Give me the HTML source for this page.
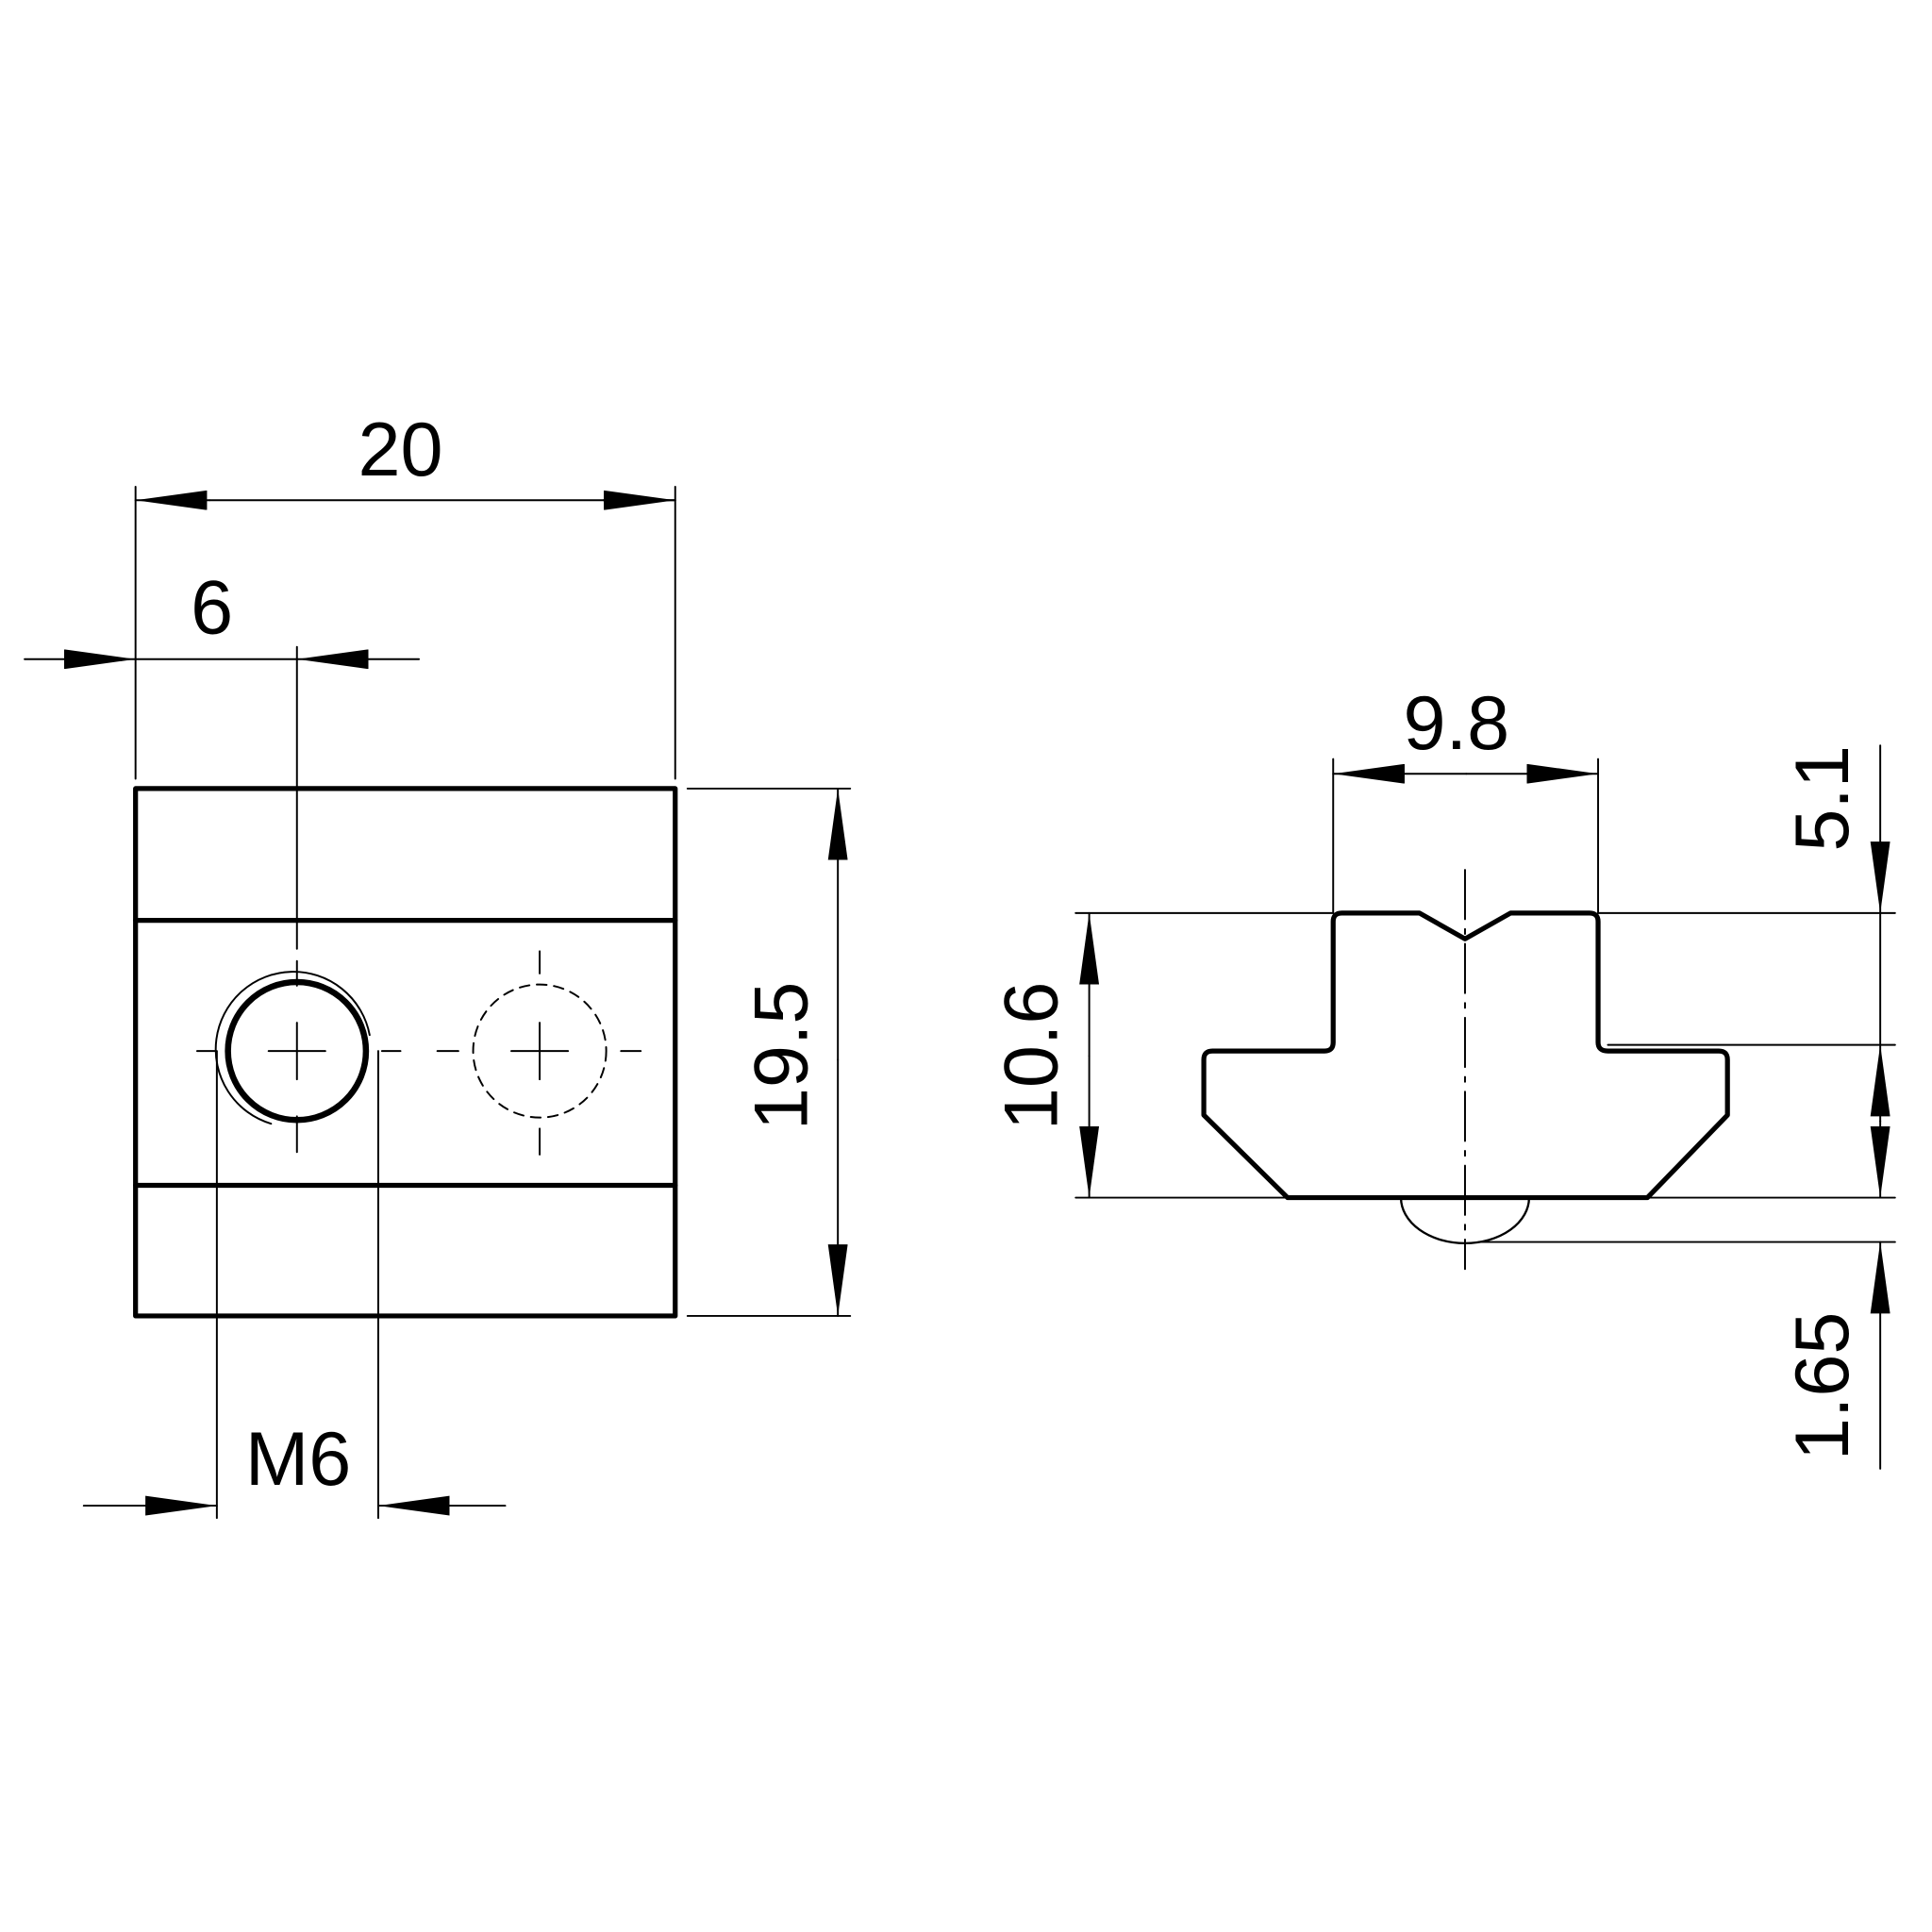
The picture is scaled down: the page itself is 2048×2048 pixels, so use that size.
<!DOCTYPE html>
<html><head><meta charset="utf-8"><style>html,body{margin:0;padding:0;background:#fff}svg{display:block}</style></head>
<body>
<svg width="2048" height="2048" viewBox="0 0 1568 1568" xmlns="http://www.w3.org/2000/svg">
<defs>
<marker id="a" viewBox="0 0 58 16" refX="58" refY="8" markerWidth="58" markerHeight="16" markerUnits="userSpaceOnUse" orient="auto"><path d="M0,0 L58,8 L0,16 Z" fill="#000"/></marker>
</defs>
<g fill="none" stroke="#000" stroke-linecap="round" stroke-linejoin="round">
<!-- left view body -->
<rect x="110" y="640" width="438" height="428" stroke-width="4"/>
<line x1="110" y1="747" x2="548" y2="747" stroke-width="4"/>
<line x1="110" y1="962" x2="548" y2="962" stroke-width="4"/>
<circle cx="241" cy="853" r="56" stroke-width="5"/>
<path d="M 300 840 A 63 63 0 1 0 220 912" stroke-width="1.5"/>
<circle cx="438" cy="853" r="54" stroke-width="1.5" stroke-dasharray="8 6"/>
<g stroke-width="1.5">
<line x1="241" y1="525" x2="241" y2="770"/>
<line x1="241" y1="780" x2="241" y2="800"/>
<line x1="241" y1="830" x2="241" y2="876"/>
<line x1="241" y1="906" x2="241" y2="935"/>
<line x1="160" y1="853" x2="175" y2="853"/>
<line x1="218" y1="853" x2="264" y2="853"/>
<line x1="310" y1="853" x2="325" y2="853"/>
<line x1="438" y1="772" x2="438" y2="790"/>
<line x1="438" y1="830" x2="438" y2="876"/>
<line x1="438" y1="916" x2="438" y2="937"/>
<line x1="355" y1="853" x2="372" y2="853"/>
<line x1="415" y1="853" x2="461" y2="853"/>
<line x1="504" y1="853" x2="520" y2="853"/>
<!-- dim 20 -->
<line x1="110" y1="395" x2="110" y2="632"/>
<line x1="548" y1="395" x2="548" y2="632"/>
<line x1="170" y1="406" x2="110" y2="406" marker-end="url(#a)"/>
<line x1="170" y1="406" x2="490" y2="406"/>
<line x1="490" y1="406" x2="548" y2="406" marker-end="url(#a)"/>
<line x1="490" y1="406" x2="548" y2="406"/>
<!-- dim 6 -->
<line x1="20" y1="535" x2="110" y2="535" marker-end="url(#a)"/>
<line x1="340" y1="535" x2="241" y2="535" marker-end="url(#a)"/>
<line x1="110" y1="535" x2="241" y2="535"/>
<!-- M6 -->
<line x1="176" y1="853" x2="176" y2="1232"/>
<line x1="307" y1="853" x2="307" y2="1232"/>
<line x1="68" y1="1222" x2="176" y2="1222" marker-end="url(#a)"/>
<line x1="410" y1="1222" x2="307" y2="1222" marker-end="url(#a)"/>
<!-- 19.5 -->
<line x1="558" y1="640" x2="690" y2="640"/>
<line x1="558" y1="1068" x2="690" y2="1068"/>
<line x1="680" y1="860" x2="680" y2="640" marker-end="url(#a)"/>
<line x1="680" y1="860" x2="680" y2="1068" marker-end="url(#a)"/>
</g>
<!-- right view T -->
<path d="M1082,748 Q1082,741 1089,741 L1152,741 L1189,762 L1226,741 L1290,741 Q1297,741 1297,748 L1297,846 Q1297,853 1305,853 L1395,853 Q1402,853 1402,860 L1402,905 L1337,972 L1045,972 L977,905 L977,860 Q977,853 984,853 L1075,853 Q1082,853 1082,846 Z" stroke-width="4"/>
<path d="M1137,972 A52 37 0 0 0 1241,972" stroke-width="1.8"/>
<g stroke-width="1.5">
<line x1="1189" y1="706" x2="1189" y2="1030" stroke-dasharray="40 8 4 8"/>
<line x1="1082" y1="616" x2="1082" y2="741"/>
<line x1="1297" y1="616" x2="1297" y2="741"/>
<line x1="1190" y1="628" x2="1082" y2="628" marker-end="url(#a)"/>
<line x1="1190" y1="628" x2="1297" y2="628" marker-end="url(#a)"/>
<line x1="873" y1="741" x2="1082" y2="741"/>
<line x1="873" y1="972" x2="1045" y2="972"/>
<line x1="884" y1="857" x2="884" y2="741" marker-end="url(#a)"/>
<line x1="884" y1="857" x2="884" y2="972" marker-end="url(#a)"/>
<line x1="1297" y1="741" x2="1538" y2="741"/>
<line x1="1305" y1="848" x2="1538" y2="848"/>
<line x1="1337" y1="972" x2="1538" y2="972"/>
<line x1="1200" y1="1008" x2="1538" y2="1008"/>
<line x1="1526" y1="605" x2="1526" y2="741" marker-end="url(#a)"/>
<line x1="1526" y1="910" x2="1526" y2="848" marker-end="url(#a)"/>
<line x1="1526" y1="910" x2="1526" y2="972" marker-end="url(#a)"/>
<line x1="1526" y1="741" x2="1526" y2="848"/>
<line x1="1526" y1="1192" x2="1526" y2="1008" marker-end="url(#a)"/>
</g>
</g>
<g font-family="'Liberation Sans', 'DejaVu Sans', sans-serif" font-size="62" fill="#000" text-anchor="middle">
<text x="325" y="386">20</text>
<text x="172" y="514">6</text>
<text x="242" y="1205">M6</text>
<text x="1182" y="608">9.8</text>
<text transform="translate(655,857) rotate(-90)">19.5</text>
<text transform="translate(858,857) rotate(-90)">10.6</text>
<text transform="translate(1500,648) rotate(-90)">5.1</text>
<text transform="translate(1500,1125) rotate(-90)">1.65</text>
</g>
</svg>
</body></html>
